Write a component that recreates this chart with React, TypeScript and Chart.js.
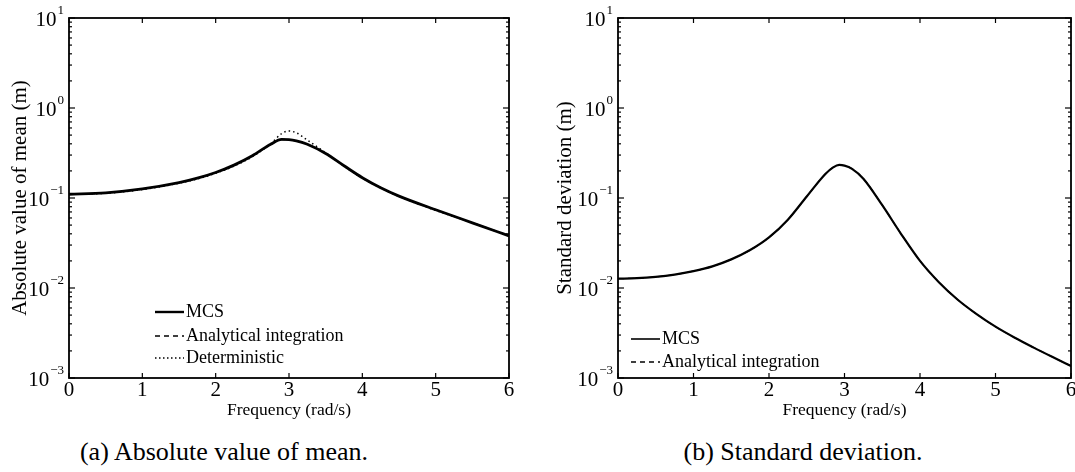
import React, { useEffect, useRef } from "react";
import { Chart, registerables } from "chart.js";

Chart.register(...registerables);

const FONT = "'Liberation Serif', 'Times New Roman', serif";

// ---- Data ----
const meanFreq = [0, 0.5, 1, 1.5, 1.75, 2, 2.25, 2.5, 2.75, 2.9, 3, 3.1, 3.25, 3.5, 3.75, 4, 4.25, 4.5, 5, 5.5, 6];
const meanMCS = [0.110, 0.114, 0.126, 0.148, 0.166, 0.192, 0.232, 0.295, 0.395, 0.447, 0.445, 0.432, 0.395, 0.312, 0.228, 0.168, 0.130, 0.105, 0.074, 0.053, 0.038];
const meanAnalytical = [0.110, 0.114, 0.126, 0.148, 0.166, 0.192, 0.231, 0.294, 0.394, 0.446, 0.444, 0.431, 0.394, 0.312, 0.228, 0.168, 0.130, 0.105, 0.074, 0.053, 0.038];
const meanDeterministic = [0.110, 0.113, 0.124, 0.146, 0.163, 0.188, 0.226, 0.288, 0.400, 0.520, 0.555, 0.530, 0.440, 0.318, 0.226, 0.166, 0.129, 0.104, 0.073, 0.053, 0.038];

const stdFreq = [0, 0.25, 0.5, 0.75, 1, 1.25, 1.5, 1.75, 2, 2.25, 2.5, 2.75, 2.85, 2.93, 3, 3.1, 3.25, 3.5, 3.75, 4, 4.25, 4.5, 4.75, 5, 5.25, 5.5, 5.75, 6];
const stdMCS = [0.0127, 0.01285, 0.0133, 0.0141, 0.0154, 0.0174, 0.0208, 0.0264, 0.0365, 0.0575, 0.104, 0.186, 0.219, 0.233, 0.229, 0.211, 0.164, 0.0832, 0.0398, 0.0200, 0.0116, 0.00741, 0.00513, 0.00372, 0.00282, 0.00219, 0.00172, 0.00136];
const stdAnalytical = [0.0127, 0.01285, 0.0133, 0.0141, 0.0154, 0.0174, 0.0208, 0.0264, 0.0365, 0.0575, 0.104, 0.186, 0.219, 0.232, 0.229, 0.211, 0.164, 0.0832, 0.0398, 0.0200, 0.0116, 0.00741, 0.00513, 0.00372, 0.00282, 0.00219, 0.00172, 0.00136];

const xTicks = [0, 1, 2, 3, 4, 5, 6];
const yExponents = [-3, -2, -1, 0, 1];
const xTitle = "Frequency (rad/s)";
const meanTitle = "Absolute value of mean (m)";
const stdTitle = "Standard deviation (m)";
const captionA = "(a) Absolute value of mean.";
const captionB = "(b) Standard deviation.";

type LegendItem = { label: string; dash: number[]; width: number };

const toPoints = (xs: number[], ys: number[]) => xs.map((x, i) => ({ x, y: ys[i] }));

function makeFramePlugin(cfg: {
  yTitle: string;
  yTitleX: number;
  legend: LegendItem[];
  legendX: number;
  legendRows: number[];
}) {
  return {
    id: "frameAndText",
    afterDatasetsDraw(chart: any) {
      const ctx: CanvasRenderingContext2D = chart.ctx;
      const { left, right, top, bottom } = chart.chartArea;
      const xs = chart.scales.x;
      const ys = chart.scales.y;
      const seg = (x1: number, y1: number, x2: number, y2: number) => {
        ctx.beginPath();
        ctx.moveTo(x1, y1);
        ctx.lineTo(x2, y2);
        ctx.stroke();
      };
      ctx.save();
      ctx.strokeStyle = "#000";
      ctx.fillStyle = "#000";
      ctx.setLineDash([]);
      ctx.lineWidth = 1.8;
      ctx.strokeRect(left, top, right - left, bottom - top);

      // ticks
      ctx.lineWidth = 1.2;
      for (const t of xTicks) {
        const px = xs.getPixelForValue(t);
        seg(px, bottom, px, bottom - 5);
        seg(px, top, px, top + 5);
      }
      for (const e of yExponents) {
        for (let m = 1; m <= 9; m++) {
          const v = m * Math.pow(10, e);
          if (v > 10.0001) break;
          const py = ys.getPixelForValue(v);
          const len = m === 1 ? 6 : 3;
          seg(left, py, left + len, py);
          seg(right, py, right - len, py);
        }
      }

      // x tick labels
      ctx.font = `21px ${FONT}`;
      ctx.textAlign = "center";
      ctx.textBaseline = "middle";
      for (const t of xTicks) {
        ctx.fillText(String(t), xs.getPixelForValue(t), bottom + 12);
      }

      // y tick labels 10^e
      for (const e of yExponents) {
        const py = ys.getPixelForValue(Math.pow(10, e));
        const expStr = e < 0 ? "\u2212" + String(-e) : String(e);
        ctx.font = `13px ${FONT}`;
        ctx.textAlign = "right";
        ctx.textBaseline = "alphabetic";
        const expRight = left - 5;
        const expW = ctx.measureText(expStr).width;
        ctx.fillText(expStr, expRight, py - 4);
        ctx.font = `21px ${FONT}`;
        ctx.textBaseline = "middle";
        ctx.fillText("10", expRight - expW - 1, py + 2);
      }

      // axis titles
      ctx.font = `17.5px ${FONT}`;
      ctx.textAlign = "center";
      ctx.textBaseline = "middle";
      ctx.fillText(xTitle, (left + right) / 2, 410);
      ctx.font = `21px ${FONT}`;
      ctx.save();
      ctx.translate(cfg.yTitleX, (top + bottom) / 2);
      ctx.rotate(-Math.PI / 2);
      ctx.fillText(cfg.yTitle, 0, 0);
      ctx.restore();

      // legend
      ctx.font = `18px ${FONT}`;
      ctx.textAlign = "left";
      ctx.textBaseline = "middle";
      cfg.legend.forEach((item, i) => {
        const y = bottom + cfg.legendRows[i];
        const x0 = left + cfg.legendX;
        ctx.lineWidth = item.width;
        ctx.setLineDash(item.dash);
        seg(x0, y, x0 + 29, y);
        ctx.setLineDash([]);
        ctx.fillText(item.label, x0 + 31, y);
      });
      ctx.restore();
    },
  };
}

function Panel(props: {
  left: number;
  width: number;
  height: number;
  yAxisWidth: number;
  padRight: number;
  datasets: any[];
  yTitle: string;
  yTitleX: number;
  legend: LegendItem[];
  legendX: number;
  legendRows: number[];
}) {
  const ref = useRef<HTMLCanvasElement | null>(null);
  useEffect(() => {
    if (!ref.current) return;
    const chart = new Chart(ref.current, {
      type: "line",
      data: { datasets: props.datasets },
      options: {
        responsive: false,
        animation: false,
        events: [],
        layout: { padding: { left: 0, right: props.padRight, top: 18, bottom: 0 } },
        plugins: { legend: { display: false }, tooltip: { enabled: false } },
        elements: { point: { radius: 0 }, line: { cubicInterpolationMode: "monotone" } },
        scales: {
          x: {
            type: "linear",
            min: 0,
            max: 6,
            ticks: { display: false },
            grid: { display: false, drawTicks: false },
            border: { display: false },
            afterFit: (s: any) => {
              s.height = props.height - 378;
            },
          },
          y: {
            type: "logarithmic",
            min: 0.001,
            max: 10,
            ticks: { display: false },
            grid: { display: false, drawTicks: false },
            border: { display: false },
            afterFit: (s: any) => {
              s.width = props.yAxisWidth;
            },
          },
        },
      } as any,
      plugins: [
        makeFramePlugin({
          yTitle: props.yTitle,
          yTitleX: props.yTitleX,
          legend: props.legend,
          legendX: props.legendX,
          legendRows: props.legendRows,
        }),
      ],
    });
    return () => chart.destroy();
  }, []);
  return (
    <canvas
      ref={ref}
      width={props.width}
      height={props.height}
      style={{ position: "absolute", left: props.left, top: 0, width: props.width, height: props.height }}
    />
  );
}

const captionStyle = (cx: number): React.CSSProperties => ({
  position: "absolute",
  left: cx,
  top: 452,
  transform: "translate(-50%, -50%)",
  font: `26px ${FONT}`,
  color: "#000",
  whiteSpace: "nowrap",
});

export default function App() {
  const meanSets = [
    {
      label: "MCS",
      data: toPoints(meanFreq, meanMCS),
      borderColor: "#000",
      borderWidth: 2.8,
      pointRadius: 0,
    },
    {
      label: "Analytical integration",
      data: toPoints(meanFreq, meanAnalytical),
      borderColor: "#000",
      borderWidth: 1.4,
      borderDash: [6, 4],
      pointRadius: 0,
    },
    {
      label: "Deterministic",
      data: toPoints(meanFreq, meanDeterministic),
      borderColor: "#000",
      borderWidth: 1.5,
      borderDash: [1.5, 3],
      pointRadius: 0,
    },
  ];
  const stdSets = [
    {
      label: "MCS",
      data: toPoints(stdFreq, stdMCS),
      borderColor: "#000",
      borderWidth: 2.2,
      pointRadius: 0,
    },
    {
      label: "Analytical integration",
      data: toPoints(stdFreq, stdAnalytical),
      borderColor: "#000",
      borderWidth: 1.2,
      borderDash: [6, 4],
      pointRadius: 0,
    },
  ];
  return (
    <div style={{ position: "fixed", left: 0, top: 0, width: 1075, height: 472, background: "#fff", overflow: "hidden" }}>
      <Panel
        left={0}
        width={540}
        height={420}
        yAxisWidth={69}
        padRight={31}
        datasets={meanSets}
        yTitle={meanTitle}
        yTitleX={20}
        legend={[
          { label: "MCS", dash: [], width: 2.4 },
          { label: "Analytical integration", dash: [5, 4], width: 1.4 },
          { label: "Deterministic", dash: [1.5, 2.5], width: 1.3 },
        ]}
        legendX={86}
        legendRows={[-66, -42, -20]}
      />
      <Panel
        left={540}
        width={535}
        height={420}
        yAxisWidth={78}
        padRight={4}
        datasets={stdSets}
        yTitle={stdTitle}
        yTitleX={25}
        legend={[
          { label: "MCS", dash: [], width: 1.6 },
          { label: "Analytical integration", dash: [5, 4], width: 1.4 },
        ]}
        legendX={13}
        legendRows={[-39, -16]}
      />
      <div style={captionStyle(224)}>{captionA}</div>
      <div style={captionStyle(803)}>{captionB}</div>
    </div>
  );
}
